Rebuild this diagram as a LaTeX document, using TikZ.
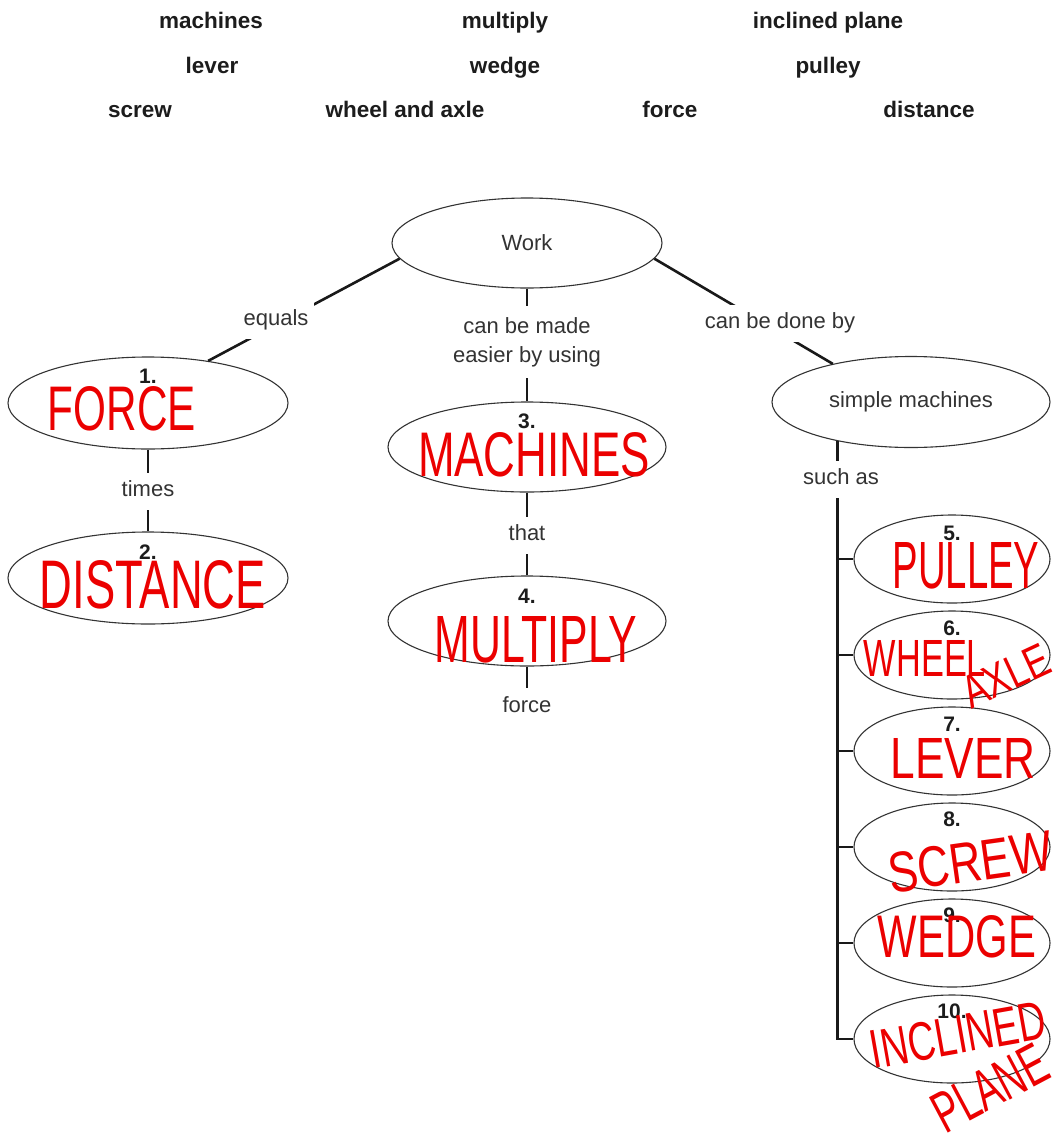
\documentclass[tikz,border=0pt]{standalone}
\usepackage{fontspec}
\usepackage{graphicx}
\setmainfont{Liberation Sans}
\usetikzlibrary{shapes.geometric}
\definecolor{txt}{RGB}{51,51,51}
\definecolor{hd}{RGB}{28,28,28}
\definecolor{pen}{RGB}{235,0,0}
\newcommand{\hw}[3]{\resizebox{#1pt}{#2pt}{#3}}
\tikzset{
 oval/.style={ellipse, draw=black!80, line width=1.1pt, inner sep=0pt, text=txt, font=\fontsize{22}{29}\selectfont},
 conn/.style={line width=2.6pt, draw=black!90},
 lbl/.style={fill=white, text=txt, font=\fontsize{22}{29}\selectfont, inner xsep=6pt, inner ysep=8pt},
 lblone/.style={lbl, text height=16pt, text depth=5pt},
 num/.style={text=hd, font=\bfseries\fontsize{21}{24}\selectfont, inner sep=0pt},
 hdr/.style={text=hd, font=\bfseries\fontsize{22.5}{26}\selectfont, anchor=base, inner sep=0pt},
 ink/.style={text=pen, inner sep=0pt},
}
\begin{document}
\begin{tikzpicture}[x=1pt,y=-1pt]
\useasboundingbox (0,0) rectangle (1060,1146);

% header word bank
\node[hdr] (h1) at (211,28) {machines};
\node[hdr] (h2) at (505,28) {multiply};
\node[hdr] (h3) at (828,28) {inclined plane};
\node[hdr] (h4) at (212,73) {lever};
\node[hdr] (h5) at (505,73) {wedge};
\node[hdr] (h6) at (828,73) {pulley};
\node[hdr] (h7) at (140,117) {screw};
\node[hdr] (h8) at (405,117) {wheel and axle};
\node[hdr] (h9) at (670,117) {force};
\node[hdr] (h10) at (929,117) {distance};

% ellipses
\node[oval, minimum width=270pt, minimum height=90pt] (work) at (527,243) {Work};
\node[oval, minimum width=280pt, minimum height=92pt] (n1) at (148,403) {};
\node[oval, minimum width=280pt, minimum height=92pt] (n2) at (148,578) {};
\node[oval, minimum width=278pt, minimum height=90pt] (n3) at (527,447) {};
\node[oval, minimum width=278pt, minimum height=90pt] (n4) at (527,621) {};
\node[oval, minimum width=278pt, minimum height=91pt] (sm) at (911,402) {simple machines};
\node[oval, minimum width=196pt, minimum height=88pt] (n5) at (952,559) {};
\node[oval, minimum width=196pt, minimum height=88pt] (n6) at (952,655) {};
\node[oval, minimum width=196pt, minimum height=88pt] (n7) at (952,751) {};
\node[oval, minimum width=196pt, minimum height=88pt] (n8) at (952,847) {};
\node[oval, minimum width=196pt, minimum height=88pt] (n9) at (952,943) {};
\node[oval, minimum width=196pt, minimum height=88pt] (n10) at (952,1039) {};

% numbers
\node[num] (k1) at ([yshift=-20pt]n1.north) {1.};
\node[num] (k2) at ([yshift=-21pt]n2.north) {2.};
\node[num] (k3) at ([yshift=-20pt]n3.north) {3.};
\node[num] (k4) at ([yshift=-21pt]n4.north) {4.};
\node[num] (k5) at ([yshift=-19pt]n5.north) {5.};
\node[num] (k6) at ([yshift=-18pt]n6.north) {6.};
\node[num] (k7) at ([yshift=-18pt]n7.north) {7.};
\node[num] (k8) at ([yshift=-17pt]n8.north) {8.};
\node[num] (k9) at ([yshift=-17pt]n9.north) {9.};
\node[num] (k10) at ([yshift=-17pt]n10.north) {10.};

% connectors
\draw[conn] (work.187) -- (n1.35);
\node[lblone] (eq) at (276,320) {equals};
\draw[conn] (work.353) -- (sm.154);
\node[lblone] (done) at (780,323) {can be done by};
\draw[conn] (work.south) -- (n3.north);
\node[lbl, align=center, inner ysep=11pt] (easier) at (527,342) {can be made\\easier by using};
\draw[conn] (n1.south) -- (n2.north);
\node[lblone] (times) at (148,491) {times};
\draw[conn] (n3.south) -- (n4.north);
\node[lblone] (that) at (527,535) {that};
\node[lblone, fill=none] (forceL) at (527,707) {force};
\draw[conn] (n4.south) -- (forceL.north);
\draw[conn] (sm.208) |- (n10.west);
\foreach \k in {n5,n6,n7,n8,n9} \draw[conn] (\k.west -| sm.208) -- (\k.west);
\node[lblone] (such) at (841,479) {such as};

% handwritten answers
\node[ink] (a1) at (122,409) {\hw{148}{44}{FORCE}};
\node[ink] (a2) at (153,585) {\hw{226}{48}{DISTANCE}};
\node[ink] (a3) at (534,455) {\hw{232}{44}{MACHINES}};
\node[ink] (a4) at (536,640) {\hw{203}{46}{MULTIPLY}};
\node[ink] (a5) at (966,566) {\hw{147}{46}{PULLEY}};
\node[ink] (a6) at (925,658) {\hw{122}{36}{WHEEL}};
\node[ink, rotate=25] (a6b) at (1006,676) {\hw{92}{32}{AXLE}};
\node[ink] (a7) at (963,758) {\hw{145}{40}{LEVER}};
\node[ink, rotate=8] (a8) at (970,862) {\hw{165}{40}{SCREW}};
\node[ink] (a9) at (957,937) {\hw{158}{42}{WEDGE}};
\node[ink, rotate=10] (a10) at (958,1035) {\hw{178}{38}{INCLINED}};
\node[ink, rotate=28] (a10b) at (990,1088) {\hw{122}{40}{PLANE}};
\end{tikzpicture}
\end{document}
